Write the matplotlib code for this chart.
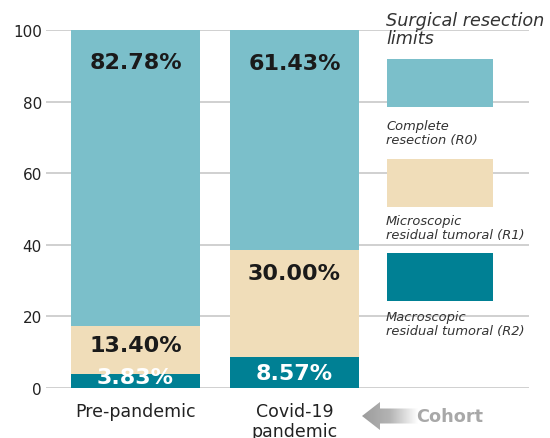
import numpy as np
import matplotlib
matplotlib.use("Agg")
import matplotlib.pyplot as plt
from matplotlib.patches import Rectangle, Polygon

# =========================
# Data
# =========================
cohorts = ["Pre-pandemic", "Covid-19\npandemic"]
r2_values = [3.83, 8.57]     # Macroscopic residual tumoral (R2)
r1_values = [13.40, 30.00]   # Microscopic residual tumoral (R1)
r0_values = [82.78, 61.43]   # Complete resection (R0)

legend_labels = ["Complete\nresection (R0)",
                 "Microscopic\nresidual tumoral (R1)",
                 "Macroscopic\nresidual tumoral (R2)"]

# =========================
# Style
# =========================
c_r0 = "#7bbfca"
c_r1 = "#f0ddb9"
c_r2 = "#008094"
W, H = 550, 439

fig = plt.figure(figsize=(W / 100, H / 100), dpi=100)
ax = fig.add_axes([46 / W, 1 - 389 / H, (529 - 46) / W, (389 - 31) / H])


def fig_xy(px, py):
    # pixel position (top-left origin) -> figure fraction
    return px / W, 1 - py / H


x = np.arange(len(cohorts))
width = 0.811
r2 = np.array(r2_values)
r1 = np.array(r1_values)
r0 = np.array(r0_values)

ax.bar(x, r2, width, color=c_r2, zorder=2)
ax.bar(x, r1, width, bottom=r2, color=c_r1, zorder=2)
ax.bar(x, r0, width, bottom=r2 + r1, color=c_r0, zorder=2)

# value labels, offset (pixels) below the top of each segment
segments = [
    (r2, r2, "white", [-2.7, -16]),
    (r1, r2 + r1, "#1a1a1a", [-19, -23]),
    (r0, r2 + r1 + r0, "#1a1a1a", [-32.5, -32.5]),
]
for vals, tops, col, offs in segments:
    for i in range(len(x)):
        ax.annotate(f"{vals[i]:.2f}%", (x[i], tops[i]), xytext=(0, offs[i] * 0.72),
                    textcoords="offset points", ha="center", va="center",
                    fontsize=16, fontweight="bold", color=col, zorder=3)

ax.set_xlim(-0.563, 2.475)
ax.set_ylim(0, 100)
ax.set_yticks([0, 20, 40, 60, 80, 100])
ax.set_xticks(x)
ax.set_xticklabels(cohorts, fontsize=12.5, color="#222222", linespacing=1.15)
ax.tick_params(axis="y", length=0, pad=3, labelsize=11, labelcolor="#222222")
ax.tick_params(axis="x", length=0, pad=10)
ax.grid(axis="y", color="#c4c4c4", linewidth=1.1, zorder=0)
for s in ax.spines.values():
    s.set_visible(False)

# =========================
# Manual legend
# =========================
fx, fy = fig_xy(386, 12)
fig.text(fx, fy, "Surgical resection\nlimits", fontsize=12.7, style="italic",
         color="#333333", va="top", ha="left", linespacing=1.0)

patch_tops = [60, 160, 254]
label_tops = [120, 215, 311]
for col, lab, pt, lt in zip([c_r0, c_r1, c_r2], legend_labels, patch_tops, label_tops):
    px0, py0 = fig_xy(387, pt + 48)
    fig.patches.append(Rectangle((px0, py0), 106 / W, 48 / H, transform=fig.transFigure,
                                 facecolor=col, edgecolor="none", zorder=3))
    tx, ty = fig_xy(386, lt)
    fig.text(tx, ty, lab, fontsize=9.4, style="italic", color="#333333",
             va="top", ha="left", linespacing=1.1, zorder=4)

# =========================
# "Cohort" arrow with gradient
# =========================
arr_ax = fig.add_axes([362 / W, 1 - 431 / H, (418 - 362) / W, (431 - 403) / H])
arr_ax.set_xlim(362, 418)
arr_ax.set_ylim(431, 403)
arr_ax.axis("off")
grad = np.linspace(0, 1, 256).reshape(1, -1)
img = arr_ax.imshow(grad, cmap=matplotlib.colors.LinearSegmentedColormap.from_list(
    "g", ["#9c9c9c", "#b4b4b4", "#ffffff"]), extent=(362, 418, 431, 403), aspect="auto")
shape = Polygon([(362, 417), (380, 403), (380, 409.5), (418, 409.5), (418, 424.5),
                 (380, 424.5), (380, 431)], closed=True, facecolor="none", edgecolor="none")
arr_ax.add_patch(shape)
img.set_clip_path(shape)

cx, cy = fig_xy(416, 417)
fig.text(cx, cy, "Cohort", fontsize=12.7, fontweight="bold", color="#a8a8a8",
         ha="left", va="center")

fig.savefig("out.png", dpi=100)
